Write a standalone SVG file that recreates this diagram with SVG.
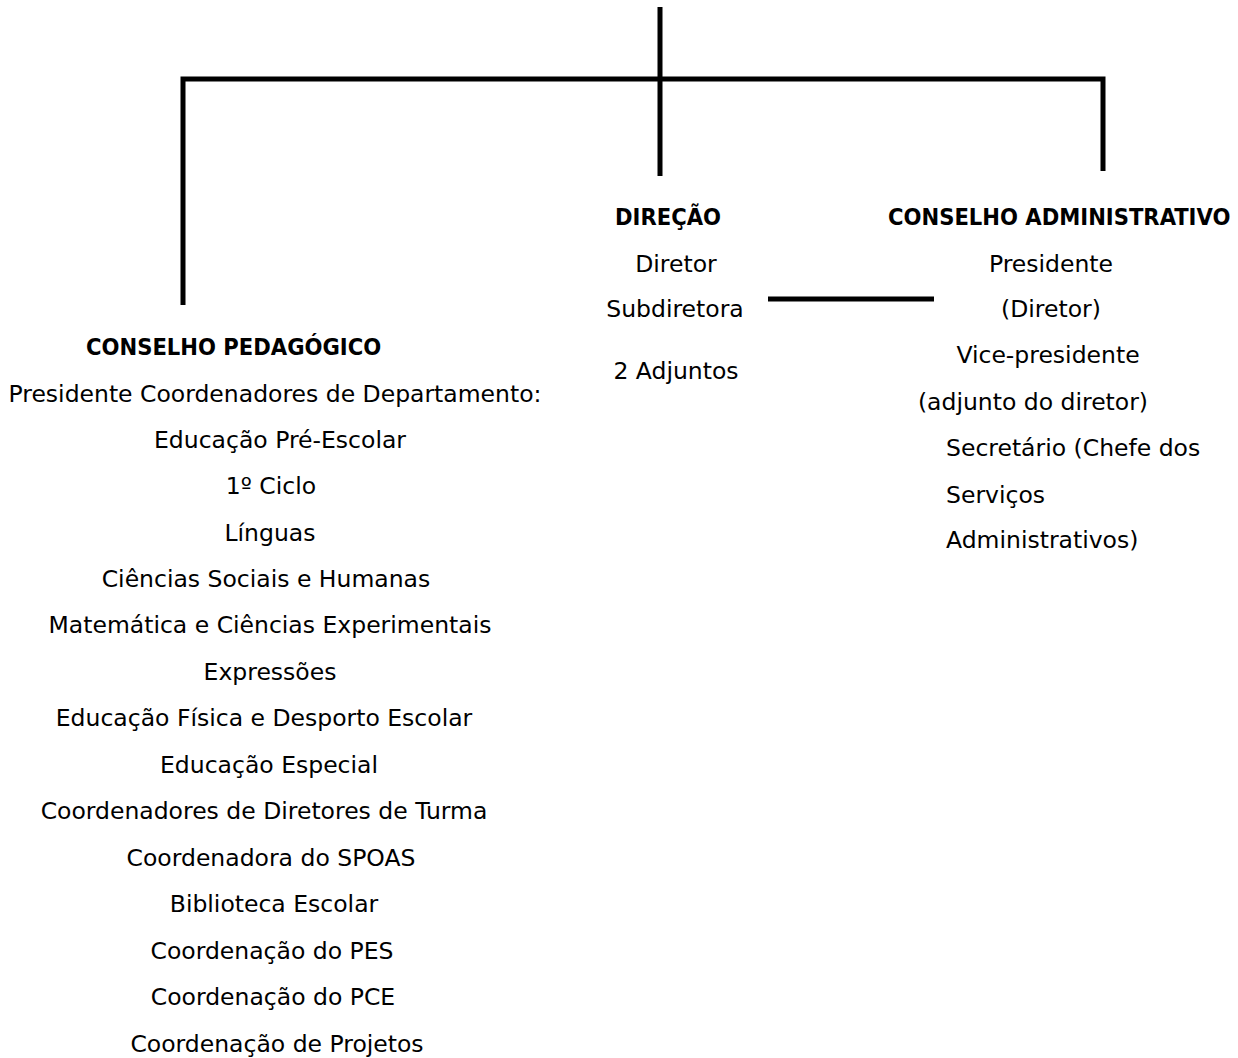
<svg xmlns="http://www.w3.org/2000/svg" width="1238" height="1058" viewBox="0 0 1238 1058">
<style>
text{font-family:"DejaVu Sans",sans-serif;font-size:23.5px;fill:#000}
.c{text-anchor:middle}
.b{font-family:"DejaVu Sans Condensed","DejaVu Sans",sans-serif;font-weight:bold}
.ln{stroke:#000;stroke-width:5;fill:none}
</style>
<rect width="1238" height="1058" fill="#fff"/>
<g id="connectors">
<line class="ln" x1="660" y1="7" x2="660" y2="176"/>
<polyline class="ln" points="183,305 183,79 1103,79 1103,171"/>
<line class="ln" x1="768" y1="299" x2="934" y2="299"/>
</g>
<g id="conselho-pedagogico">
<text class="b" x="86" y="355">CONSELHO PEDAGÓGICO</text>
<text class="c" x="275" y="402">Presidente Coordenadores de Departamento:</text>
<text class="c" x="280" y="448">Educação Pré-Escolar</text>
<text class="c" x="271" y="494">1º Ciclo</text>
<text class="c" x="270" y="541">Línguas</text>
<text class="c" x="266" y="587">Ciências Sociais e Humanas</text>
<text class="c" x="270" y="633">Matemática e Ciências Experimentais</text>
<text class="c" x="270" y="680">Expressões</text>
<text class="c" x="264" y="726">Educação Física e Desporto Escolar</text>
<text class="c" x="269" y="773">Educação Especial</text>
<text class="c" x="264" y="819">Coordenadores de Diretores de Turma</text>
<text class="c" x="271" y="866">Coordenadora do SPOAS</text>
<text class="c" x="274" y="912">Biblioteca Escolar</text>
<text class="c" x="272" y="959">Coordenação do PES</text>
<text class="c" x="273" y="1005">Coordenação do PCE</text>
<text class="c" x="277" y="1052">Coordenação de Projetos</text>
</g>
<g id="direcao">
<text class="b" x="615" y="225">DIREÇÃO</text>
<text class="c" x="676" y="272">Diretor</text>
<text class="c" x="675" y="317">Subdiretora</text>
<text class="c" x="676" y="379">2 Adjuntos</text>
</g>
<g id="conselho-administrativo">
<text class="b" x="888" y="225">CONSELHO ADMINISTRATIVO</text>
<text class="c" x="1051" y="272">Presidente</text>
<text class="c" x="1051" y="317">(Diretor)</text>
<text class="c" x="1048" y="363">Vice-presidente</text>
<text class="c" x="1033" y="410">(adjunto do diretor)</text>
<text x="946" y="456">Secretário (Chefe dos</text>
<text x="946" y="503">Serviços</text>
<text x="946" y="548">Administrativos)</text>
</g>
</svg>
